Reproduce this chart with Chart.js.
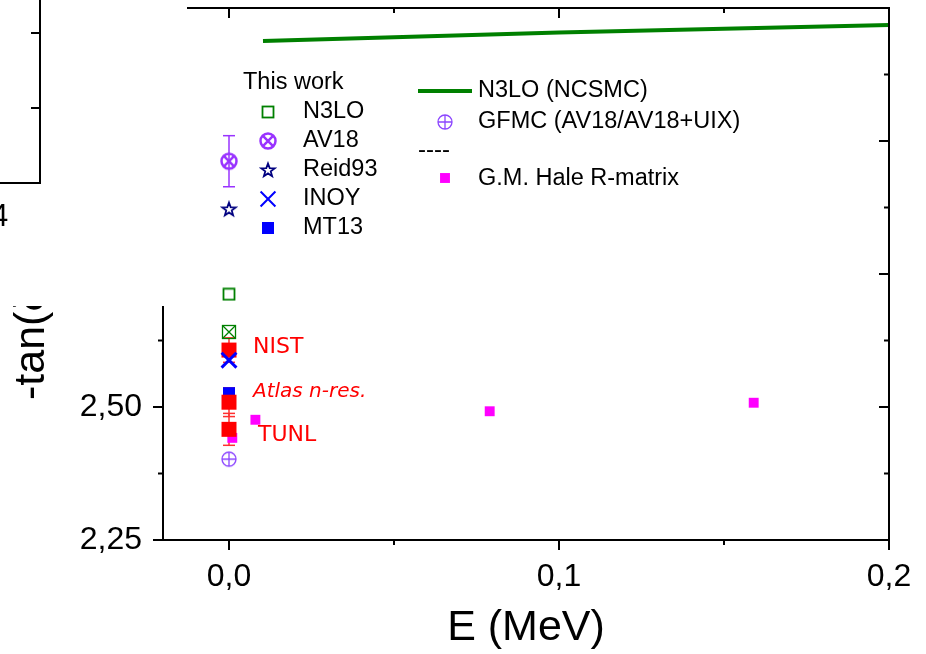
<!DOCTYPE html>
<html>
<head>
<meta charset="utf-8">
<script src="https://cdn.jsdelivr.net/npm/chart.js@4.4.0/dist/chart.umd.min.js"></script>
<style>
  html, body { margin: 0; padding: 0; background: #fff; }
</style>
</head>
<body>
<canvas id="phaseChart" width="926" height="654"></canvas>
<script>
// N3LO (NCSMC) curve
const ncsmcE = [0.0103, 0.05, 0.10, 0.15, 0.20];
const ncsmcVal = [3.188, 3.195, 3.204, 3.211, 3.218];

// G.M. Hale R-matrix
const haleE = [0.001, 0.008, 0.079, 0.159];
const haleVal = [2.442, 2.476, 2.492, 2.508];

// this work, all at E = 0
const thisWorkNames = ['N3LO', 'AV18', 'Reid93', 'INOY', 'MT13'];
const thisWorkVal = [2.712, 2.962, 2.872, 2.588, 2.526];
const av18Err = 0.048;
const n3loBoxVal = 2.641;

// GFMC (AV18/AV18+UIX)
const gfmcVal = 2.402;

// experiments at E = 0
const expNames = ['NIST', 'Atlas n-res.', 'TUNL'];
const expVal = [2.607, 2.509, 2.458];
const expErr = [0.023, 0.027, 0.030];

const xTicks = [0, 0.1, 0.2];
const xMinor = [0.05, 0.15];
const yTicks = [2.25, 2.50, 2.75, 3.00, 3.25];
const yMinor = [2.375, 2.625, 2.875, 3.125];

const FONT = 'Arial, "Liberation Sans", sans-serif';
const GREEN = '#008000';
const VIOLET = '#9933ff';
const GFMC_COL = '#8c46ff';
const NAVY = '#000080';

function symbol(size, draw) {
  const c = document.createElement('canvas');
  c.width = size; c.height = size;
  draw(c.getContext('2d'), size / 2);
  return c;
}

const openSquare = symbol(14, (g, m) => {
  g.strokeStyle = GREEN; g.lineWidth = 1.8;
  g.strokeRect(m - 5.5, m - 5.5, 11, 11);
});

const boxCross = symbol(16, (g, m) => {
  g.strokeStyle = GREEN; g.lineWidth = 1.3;
  g.strokeRect(m - 6.5, m - 6.5, 13, 13);
  g.beginPath();
  g.moveTo(m - 6.5, m - 6.5); g.lineTo(m + 6.5, m + 6.5);
  g.moveTo(m + 6.5, m - 6.5); g.lineTo(m - 6.5, m + 6.5);
  g.stroke();
});

const circleCross = symbol(22, (g, m) => {
  g.strokeStyle = VIOLET; g.lineWidth = 2.5;
  g.beginPath(); g.arc(m, m, 7.5, 0, Math.PI * 2); g.stroke();
  const d = 7.5 * Math.SQRT1_2;
  g.beginPath();
  g.moveTo(m - d, m - d); g.lineTo(m + d, m + d);
  g.moveTo(m + d, m - d); g.lineTo(m - d, m + d);
  g.stroke();
});

const circlePlus = symbol(18, (g, m) => {
  g.strokeStyle = GFMC_COL; g.lineWidth = 1.3;
  g.beginPath(); g.arc(m, m, 7, 0, Math.PI * 2); g.stroke();
  g.beginPath();
  g.moveTo(m - 7, m); g.lineTo(m + 7, m);
  g.moveTo(m, m - 7); g.lineTo(m, m + 7);
  g.stroke();
});

const starSym = symbol(18, (g, m) => {
  g.strokeStyle = NAVY; g.lineWidth = 1.8; g.lineJoin = 'miter';
  g.beginPath();
  for (let i = 0; i < 10; i++) {
    const r = i % 2 ? 2.9 : 7;
    const a = -Math.PI / 2 + i * Math.PI / 5;
    const px = m + r * Math.cos(a), py = m + 0.5 + r * Math.sin(a);
    i ? g.lineTo(px, py) : g.moveTo(px, py);
  }
  g.closePath(); g.stroke();
});

const pts = (xs, ys) => xs.map((x, i) => ({ x, y: ys[i] }));
const atZero = ys => ys.map(y => ({ x: 0, y }));

const datasets = [
  { label: 'N3LO (NCSMC)', data: pts(ncsmcE, ncsmcVal), showLine: true,
    borderColor: GREEN, borderWidth: 4, pointRadius: 0, order: 0 },
  { label: 'G.M. Hale R-matrix', data: pts(haleE, haleVal), pointStyle: 'rect',
    pointRadius: 7, backgroundColor: '#ff00ff', borderWidth: 0, order: 9 },
  { label: 'MT13', data: atZero([thisWorkVal[4]]), pointStyle: 'rect',
    pointRadius: 8.5, backgroundColor: '#0000ff', borderWidth: 0, order: 8 },
  { label: 'Experiment', data: atZero(expVal), errors: expErr, errColor: '#ff3030',
    pointStyle: 'rect', pointRadius: 10.6, backgroundColor: '#ff0000', borderWidth: 0, order: 7 },
  { label: 'INOY', data: atZero([thisWorkVal[3]]), pointStyle: 'crossRot',
    pointRadius: 10.5, borderColor: '#0000ff', borderWidth: 3, order: 6 },
  { label: 'N3LO', data: atZero([thisWorkVal[0]]), pointStyle: openSquare, order: 5 },
  { label: 'N3LO box', data: atZero([n3loBoxVal]), pointStyle: boxCross, order: 4 },
  { label: 'AV18', data: atZero([thisWorkVal[1]]), errors: [av18Err], errColor: VIOLET,
    pointStyle: circleCross, order: 3 },
  { label: 'Reid93', data: atZero([thisWorkVal[2]]), pointStyle: starSym, order: 2 },
  { label: 'GFMC (AV18/AV18+UIX)', data: atZero([gfmcVal]), pointStyle: circlePlus, order: 1 }
];

function line(ctx, x1, y1, x2, y2) {
  ctx.beginPath(); ctx.moveTo(x1, y1); ctx.lineTo(x2, y2); ctx.stroke();
}

const decor = {
  id: 'decor',
  beforeDatasetsDraw(chart) {
    const { ctx, scales: { x, y } } = chart;
    ctx.save();
    chart.data.datasets.forEach(ds => {
      if (!ds.errors) return;
      ctx.strokeStyle = ds.errColor; ctx.lineWidth = 1.5;
      ds.data.forEach((p, i) => {
        const px = x.getPixelForValue(p.x);
        const top = y.getPixelForValue(p.y + ds.errors[i]);
        const bot = y.getPixelForValue(p.y - ds.errors[i]);
        line(ctx, px, top, px, bot);
        line(ctx, px - 6, top, px + 6, top);
        line(ctx, px - 6, bot, px + 6, bot);
      });
    });
    ctx.restore();
  },
  afterDraw(chart) {
    const { ctx, chartArea: a, scales: { x, y } } = chart;
    ctx.save();

    // frame with ticks: outward on left/bottom, inward on top/right
    ctx.strokeStyle = '#000'; ctx.lineWidth = 2; ctx.lineCap = 'square';
    ctx.strokeRect(a.left, a.top, a.right - a.left, a.bottom - a.top);
    ctx.lineCap = 'butt';
    const tickX = (v, len) => {
      const px = x.getPixelForValue(v);
      line(ctx, px, a.bottom, px, a.bottom + len);
      line(ctx, px, a.top, px, a.top + len);
    };
    const tickY = (v, len) => {
      const py = y.getPixelForValue(v);
      line(ctx, a.left - len, py, a.left, py);
      line(ctx, a.right - len, py, a.right, py);
    };
    xTicks.forEach(v => tickX(v, 10));
    xMinor.forEach(v => tickX(v, 5));
    yTicks.forEach(v => tickY(v, 10));
    yMinor.forEach(v => tickY(v, 5));

    // experiment labels beside their points
    const shift = [[24, -3], [24, -10], [29, 6]];
    ctx.fillStyle = '#ff0000'; ctx.textBaseline = 'middle'; ctx.textAlign = 'left';
    expNames.forEach((name, i) => {
      ctx.font = (i === 1 ? 'italic 20px ' : '22px ') + '"Comic Sans MS", "DejaVu Sans", sans-serif';
      ctx.fillText(name, x.getPixelForValue(0) + shift[i][0], y.getPixelForValue(expVal[i]) + shift[i][1]);
    });

    // legend
    ctx.fillStyle = '#000'; ctx.font = '23.5px ' + FONT;
    ctx.fillText('This work', 243, 83);
    const drawSym = (ds, cx, cy) => {
      const st = ds.pointStyle;
      if (st instanceof HTMLCanvasElement) {
        ctx.drawImage(st, cx - st.width / 2, cy - st.height / 2);
      } else {
        ctx.fillStyle = ds.backgroundColor || '#000';
        ctx.strokeStyle = ds.borderColor || '#000';
        Chart.helpers.drawPoint(ctx, { pointStyle: st, radius: ds.pointRadius, rotation: 0,
          borderWidth: ds.borderWidth }, cx, cy);
      }
    };
    const byLabel = l => chart.data.datasets.find(d => d.label === l);
    thisWorkNames.forEach((name, i) => {
      const cy = 112 + i * 29;
      drawSym(byLabel(name), 268, cy);
      ctx.fillStyle = '#000';
      ctx.fillText(name, 303, cy);
    });
    ctx.strokeStyle = GREEN; ctx.lineWidth = 4;
    line(ctx, 418, 91, 472, 91);
    ctx.fillStyle = '#000';
    ctx.fillText('N3LO (NCSMC)', 478, 91);
    drawSym(byLabel('GFMC (AV18/AV18+UIX)'), 445, 122);
    ctx.fillStyle = '#000';
    ctx.fillText('GFMC (AV18/AV18+UIX)', 478, 122);
    ctx.font = '24px ' + FONT;
    ctx.fillText('----', 418, 150);
    ctx.font = '23.5px ' + FONT;
    drawSym(byLabel('G.M. Hale R-matrix'), 445, 178);
    ctx.fillStyle = '#000';
    ctx.fillText('G.M. Hale R-matrix', 478, 179);

    // y axis title
    ctx.save();
    ctx.translate(44, 400); ctx.rotate(-Math.PI / 2);
    ctx.font = '43px ' + FONT; ctx.textBaseline = 'alphabetic';
    ctx.fillText('-tan(δ)', 0, 0);
    ctx.restore();

    // neighbouring panel pasted over the upper left corner
    ctx.fillStyle = '#fff';
    ctx.fillRect(0, 0, 187, 306);
    ctx.strokeStyle = '#000'; ctx.lineWidth = 2;
    line(ctx, 40, 0, 40, 184);
    line(ctx, 0, 183, 41, 183);
    line(ctx, 31, 33, 40, 33);
    line(ctx, 31, 108, 40, 108);
    ctx.fillStyle = '#000'; ctx.font = '31px ' + FONT; ctx.textBaseline = 'middle';
    ctx.fillText('4', -9, 217);

    ctx.restore();
  }
};

new Chart(document.getElementById('phaseChart'), {
  type: 'scatter',
  data: { datasets },
  options: {
    responsive: false,
    animation: false,
    layout: { autoPadding: false, padding: { left: 0, right: 37, top: 8, bottom: 0 } },
    plugins: { legend: { display: false }, tooltip: { enabled: false } },
    scales: {
      x: {
        type: 'linear', min: -0.02, max: 0.2,
        afterBuildTicks: s => { s.ticks = xTicks.map(v => ({ value: v })); },
        afterFit: s => { s.height = 114; s.paddingLeft = 0; s.paddingRight = 0; },
        grid: { display: false, drawTicks: false },
        border: { display: false },
        ticks: {
          color: '#000', padding: 18, maxRotation: 0, autoSkip: false,
          font: { family: FONT, size: 32 },
          callback: v => v.toFixed(1).replace('.', ',')
        },
        title: { display: true, text: 'E (MeV)', color: '#000', padding: 0,
          font: { family: FONT, size: 43 } }
      },
      y: {
        type: 'linear', min: 2.25, max: 3.25,
        afterBuildTicks: s => { s.ticks = yTicks.map(v => ({ value: v })); },
        afterFit: s => { s.width = 163; s.paddingTop = 0; s.paddingBottom = 0; },
        grid: { display: false, drawTicks: false },
        border: { display: false },
        ticks: {
          color: '#000', padding: 21, autoSkip: false,
          font: { family: FONT, size: 32 },
          callback: v => v.toFixed(2).replace('.', ',')
        }
      }
    }
  },
  plugins: [decor]
});
</script>
</body>
</html>
